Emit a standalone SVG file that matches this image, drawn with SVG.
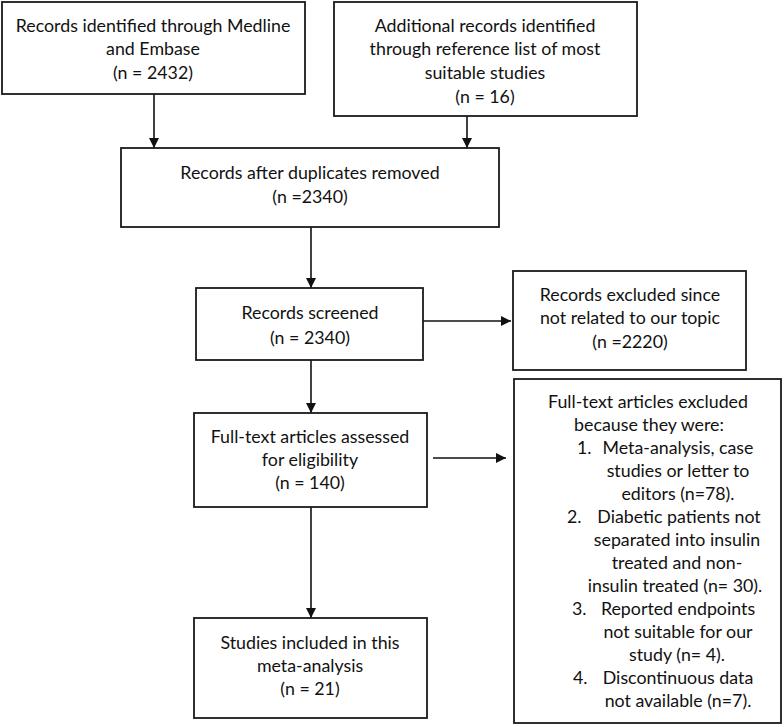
<svg xmlns="http://www.w3.org/2000/svg" width="784" height="727" viewBox="0 0 784 727">
<style>
.box{fill:#fff;stroke:#1a1a1a;stroke-width:1.8}
text{font-family:Lato,"Liberation Sans",sans-serif;font-size:17.8px;fill:#111}
.c{text-anchor:middle}
.conn line{stroke:#111;stroke-width:1.6;fill:none}
</style>
<defs>
<marker id="ah" viewBox="0 0 10 10" refX="10" refY="5" markerWidth="10" markerHeight="10" markerUnits="userSpaceOnUse" orient="auto">
<path d="M0,0 L10,5 L0,10 Z" fill="#111"/>
</marker>
</defs>
<rect width="784" height="727" fill="#fff"/>
<g class="conn">
<line x1="154" y1="94" x2="154" y2="148" marker-end="url(#ah)"/>
<line x1="467" y1="116" x2="467" y2="148" marker-end="url(#ah)"/>
<line x1="311" y1="227" x2="311" y2="288" marker-end="url(#ah)"/>
<line x1="423" y1="321" x2="511" y2="321" marker-end="url(#ah)"/>
<line x1="311" y1="360" x2="311" y2="413" marker-end="url(#ah)"/>
<line x1="433" y1="458" x2="506" y2="458" marker-end="url(#ah)"/>
<line x1="311" y1="507" x2="311" y2="618" marker-end="url(#ah)"/>
</g>
<g id="identified">
<rect class="box" x="2" y="2" width="303" height="92"/>
<text class="c" x="153" y="32">Records identified through Medline</text>
<text class="c" x="153" y="55">and Embase</text>
<text class="c" x="153" y="79">(n = 2432)</text>
</g>
<g id="additional">
<rect class="box" x="334" y="2" width="303" height="114"/>
<text class="c" x="485" y="32">Additional records identified</text>
<text class="c" x="485" y="55">through reference list of most</text>
<text class="c" x="485" y="79">suitable studies</text>
<text class="c" x="485" y="103">(n = 16)</text>
</g>
<g id="duplicates">
<rect class="box" x="121" y="148" width="378" height="79"/>
<text class="c" x="310" y="179">Records after duplicates removed</text>
<text class="c" x="310" y="203">(n =2340)</text>
</g>
<g id="screened">
<rect class="box" x="196" y="288" width="227" height="72"/>
<text class="c" x="310" y="319">Records screened</text>
<text class="c" x="310" y="344">(n = 2340)</text>
</g>
<g id="excluded">
<rect class="box" x="513" y="271" width="233" height="99"/>
<text class="c" x="630" y="301">Records excluded since</text>
<text class="c" x="630" y="324">not related to our topic</text>
<text class="c" x="630" y="348">(n =2220)</text>
</g>
<g id="fulltext">
<rect class="box" x="194" y="413" width="233" height="94"/>
<text class="c" x="310" y="443">Full-text articles assessed</text>
<text class="c" x="310" y="466">for eligibility</text>
<text class="c" x="310" y="489">(n = 140)</text>
</g>
<g id="ftexcluded">
<rect class="box" x="514" y="379" width="267" height="344"/>
<text class="c" x="648" y="408">Full-text articles excluded</text>
<text class="c" x="649" y="431">because they were:</text>
<text x="577" y="454">1.</text>
<text class="c" x="678" y="454">Meta-analysis, case</text>
<text class="c" x="678" y="477">studies or letter to</text>
<text class="c" x="678" y="500">editors (n=78).</text>
<text x="567" y="523">2.</text>
<text class="c" x="679" y="523">Diabetic patients not</text>
<text class="c" x="677" y="546">separated into insulin</text>
<text class="c" x="677" y="569">treated and non-</text>
<text class="c" x="675" y="592">insulin treated (n= 30).</text>
<text x="572" y="615">3.</text>
<text class="c" x="678" y="615">Reported endpoints</text>
<text class="c" x="678" y="638">not suitable for our</text>
<text class="c" x="677" y="661">study (n= 4).</text>
<text x="573" y="684">4.</text>
<text class="c" x="678" y="684">Discontinuous data</text>
<text class="c" x="678" y="707">not available (n=7).</text>
</g>
<g id="included">
<rect class="box" x="194" y="618" width="233" height="100"/>
<text class="c" x="310" y="649">Studies included in this</text>
<text class="c" x="310" y="672">meta-analysis</text>
<text class="c" x="310" y="695">(n = 21)</text>
</g>
</svg>
